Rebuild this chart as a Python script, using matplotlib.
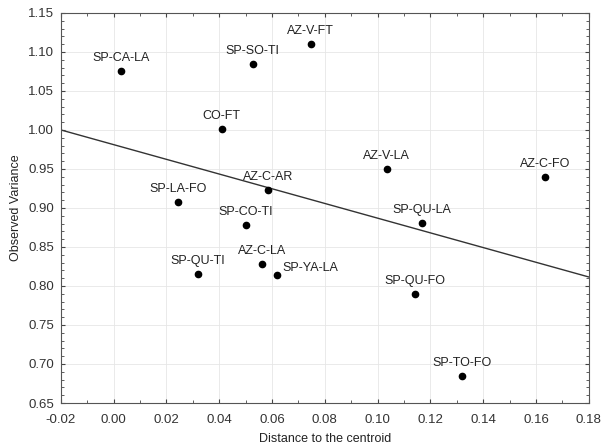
import numpy as np
import matplotlib.pyplot as plt
from matplotlib.ticker import MultipleLocator

plt.rcParams['font.family'] = ['Liberation Sans', 'DejaVu Sans']

names = ['SP-CA-LA', 'SP-SO-TI', 'AZ-V-FT', 'CO-FT', 'AZ-C-AR', 'SP-LA-FO',
         'AZ-V-LA', 'AZ-C-FO', 'SP-QU-LA', 'SP-CO-TI', 'AZ-C-LA', 'SP-YA-LA',
         'SP-QU-TI', 'SP-QU-FO', 'SP-TO-FO']
distance = [0.0027, 0.0527, 0.0747, 0.0410, 0.0584, 0.0243,
            0.1035, 0.1633, 0.1167, 0.0501, 0.0561, 0.0618,
            0.0319, 0.1141, 0.1319]
variance = [1.0756, 1.0846, 1.1100, 1.0013, 0.9230, 0.9077,
            0.9500, 0.9400, 0.8810, 0.8780, 0.8280, 0.8140,
            0.8150, 0.7900, 0.6850]

# fitted line
intercept = 0.9812
slope = -0.9425

fig = plt.figure(figsize=(6.02, 4.46), dpi=100)
ax = fig.add_axes([0.101, 0.0964, 0.877, 0.8746])

xs = np.array([-0.02, 0.18])
ax.plot(xs, intercept + slope * xs, color='#333333', linewidth=1.0)
ax.plot(distance, variance, 'o', color='black', markersize=4.5)

for n, x, y in zip(names, distance, variance):
    if n == 'SP-YA-LA':
        ax.annotate(n, (x, y), xytext=(4, 1), textcoords='offset points',
                    ha='left', va='bottom', fontsize=9, color='#222222')
    else:
        ax.annotate(n, (x, y), xytext=(0, 5), textcoords='offset points',
                    ha='center', va='bottom', fontsize=9, color='#222222')

ax.set_xlim(-0.02, 0.18)
ax.set_ylim(0.65, 1.15)
ax.xaxis.set_major_locator(MultipleLocator(0.02))
ax.xaxis.set_minor_locator(MultipleLocator(0.01))
ax.yaxis.set_major_locator(MultipleLocator(0.05))
ax.yaxis.set_minor_locator(MultipleLocator(0.01))
ax.set_xticklabels([f'{v:.2f}' for v in ax.get_xticks()])
ax.set_yticklabels([f'{v:.2f}' for v in ax.get_yticks()])
ax.tick_params(which='both', direction='in', top=True, right=True,
               labelsize=9.5, labelcolor='#333333', color='#444444')
ax.tick_params(which='major', length=3, pad=5)
ax.tick_params(axis='x', which='major', pad=8)
ax.tick_params(which='minor', length=2)
ax.grid(True, which='major', color='#e6e6e6', linewidth=0.6)
ax.set_axisbelow(True)
for s in ax.spines.values():
    s.set_color('#555555')
    s.set_linewidth(0.8)

ax.set_xlabel('Distance to the centroid', fontsize=9, labelpad=5, color='#222222')
ax.set_ylabel('Observed Variance', fontsize=9, labelpad=4, color='#222222')

fig.savefig('out.png', dpi=100)
